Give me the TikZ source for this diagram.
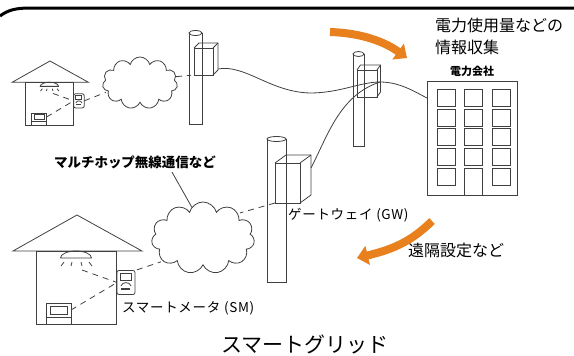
\documentclass[tikz,border=0pt]{standalone}
\usepackage{fontspec}
\setmainfont{Noto Sans CJK JP}
\newfontfamily\tagfont[LetterSpace=5]{Noto Sans CJK JP}
\usetikzlibrary{shapes,shapes.symbols,arrows.meta}
\definecolor{flow}{RGB}{232,128,30}

\begin{document}
\begin{tikzpicture}[x=1pt,y=-1pt]
   \useasboundingbox (0,0) rectangle (574,356);
   \tikzstyle{wire}=[draw=black!75, line width=0.8pt]
   \tikzstyle{radio}=[wire, dash pattern=on 6pt off 5pt]
   \tikzstyle{boxface}=[draw=black!75, line width=0.8pt, inner sep=0pt, outer sep=0pt]
   \tikzstyle{puff}=[cloud, cloud puffs=11, cloud ignores aspect, draw=black!75, line width=0.8pt]
   \tikzstyle{flowarrow}=[draw=flow, line width=8pt, -{Triangle[width=19pt,length=11pt]}]
   \tikzstyle{note}=[font=\fontsize{16}{22}\selectfont, align=left, inner sep=0pt]
   \tikzstyle{tag}=[font=\tagfont\fontsize{13.5}{14}\selectfont, inner sep=0pt]
   % frame
   \draw[line width=3pt] (0,16) .. controls (8,10) and (16,8) .. (30,8) -- (574,8);
   % houses, the small one is the big one scaled
   \foreach \h/\hx/\hy/\s in {1/50/61/0.59, 2/77/215/1} {
     \begin{scope}[shift={(\hx,\hy)}, scale=\s]
       \draw[wire] (-64,36) -- (0,0) -- (65,36) -- cycle;
       \draw[wire] (-41,36) rectangle (39,109);
       % lamp
       \draw[wire] (-16.5,43) arc[start angle=180, end angle=360, x radius=15.5, y radius=7] -- cycle;
       \foreach \a/\b in {-13/-16, -5/-6, 4/5, 12/15}
         \draw[wire] (\a,47) -- (\b,51);
       \coordinate (lamp\h) at (5,55);
       % tv
       \node[boxface, transform shape, minimum width=25, minimum height=14] (tv\h) at (-18.5,95) {};
       \draw[wire] (tv\h.south west) rectangle (-6,109);
       \draw[wire] (-27,91) rectangle (-10,99);
       % meter
       \node[boxface, transform shape, rounded corners=2pt, minimum width=18, minimum height=24] (meter\h) at (49,67.5) {};
       \draw[wire] (43,58) rectangle (54,65);
       \draw[wire] (44,71) .. controls (45,66.5) and (53,66.5) .. (54,71);
       \draw[wire, line width=1.5pt] (44,74) -- (53,74);
       \draw[radio] (lamp\h) -- (meter\h.west);
       \draw[radio] (tv\h.east) -- (meter\h.west);
     \end{scope}
   }
   \node[puff, minimum width=75, minimum height=52] (cloud1) at (140,83) {};
   \node[puff, minimum width=103, minimum height=72] (cloud2) at (203,238) {};
   % poles
   \foreach \cx/\r/\top/\bot in {195.5/6.5/33/124, 358.5/5.5/54/146, 276.5/9.5/139/282} {
     \draw[wire] (\cx-\r,\top) -- (\cx-\r,\bot) -- (\cx+\r,\bot) -- (\cx+\r,\top);
     \draw[wire] (\cx,\top) ellipse [x radius=\r, y radius=2.5];
   }
   \foreach \name/\cx/\cy/\w/\h/\dx/\dy in {box1/203.5/61.5/19/27/5/5, box2/367/83.5/20/27/3.5/5, box3/287.5/183/25/40/11/8} {
     \node[boxface, minimum width=\w, minimum height=\h] (\name) at (\cx,\cy) {};
     \draw[wire] (\name.north west) -- ++(\dx,-\dy) -- ++(\w,0) -- ++(0,\h) -- (\name.south east);
     \draw[wire] (\name.north east) -- ++(\dx,-\dy);
   }
   \coordinate (tap1) at (218,69);
   \coordinate (tap2) at (380,82);
   \coordinate (tap3) at (311,168);
   % power company
   \node[boxface, minimum width=90, minimum height=114] (company) at (472,138) {};
   \foreach \wy in {89,109,128,148}
     \foreach \wx in {437,464,492}
       \draw[wire] (\wx,\wy) rectangle ++(18,17);
   \draw[wire] (437,168) rectangle ++(18,17);
   \draw[wire] (492,168) rectangle ++(18,17);
   \draw[wire] (464,168) rectangle (482,195);
   \node[font=\bfseries\fontsize{11}{11}\selectfont] (companylabel) at (472,71) {電力会社};
   % lines
   \draw[wire] (tap1) .. controls (245,64) and (270,92) .. (310,93) .. controls (340,93) and (360,82) .. (tap2)
      .. controls (400,82) and (415,92) .. ([yshift=-17]company.north west);
   \draw[wire] (tap3) .. controls (328,135) and (340,95) .. (tap2);
   \draw[radio, shorten >=2pt] (meter1.east) -- (cloud1.195);
   \draw[radio, shorten <=2pt, shorten >=2pt] (meter2.north east) -- (cloud2.210);
   \draw[radio, shorten >=3pt] (cloud1.10) -- (box1.south west);
   \draw[radio, shorten >=2pt] (box3.south west) -- (cloud2.35);
   % labels
   \node[note, anchor=west] (info) at (435,36) {電力使用量などの\\情報収集};
   \node[note, anchor=west] (remote) at (408,250) {遠隔設定など};
   \node[font=\bfseries\fontsize{13.5}{14}\selectfont] (hop) at (135,162) {マルチホップ無線通信など};
   \node[tag, anchor=west] (gw) at (288,215) {ゲートウェイ (GW)};
   \node[tag, anchor=west] (sm) at (122,308) {スマートメータ (SM)};
   \node[font=\fontsize{21}{21}\selectfont] (title) at (305,344) {スマートグリッド};
   \draw[wire] ([xshift=37]hop.south) -- (cloud2.110);
   % data flows
   \coordinate (up1) at (330,32);
   \coordinate (up2) at (407,58);
   \coordinate (down1) at (432,221);
   \coordinate (down2) at (357,258);
   \draw[flowarrow] (up1) .. controls (362,33) and (385,42) .. (up2);
   \draw[flowarrow] (down1) .. controls (410,243) and (390,250) .. (down2);
\end{tikzpicture}
\end{document}
